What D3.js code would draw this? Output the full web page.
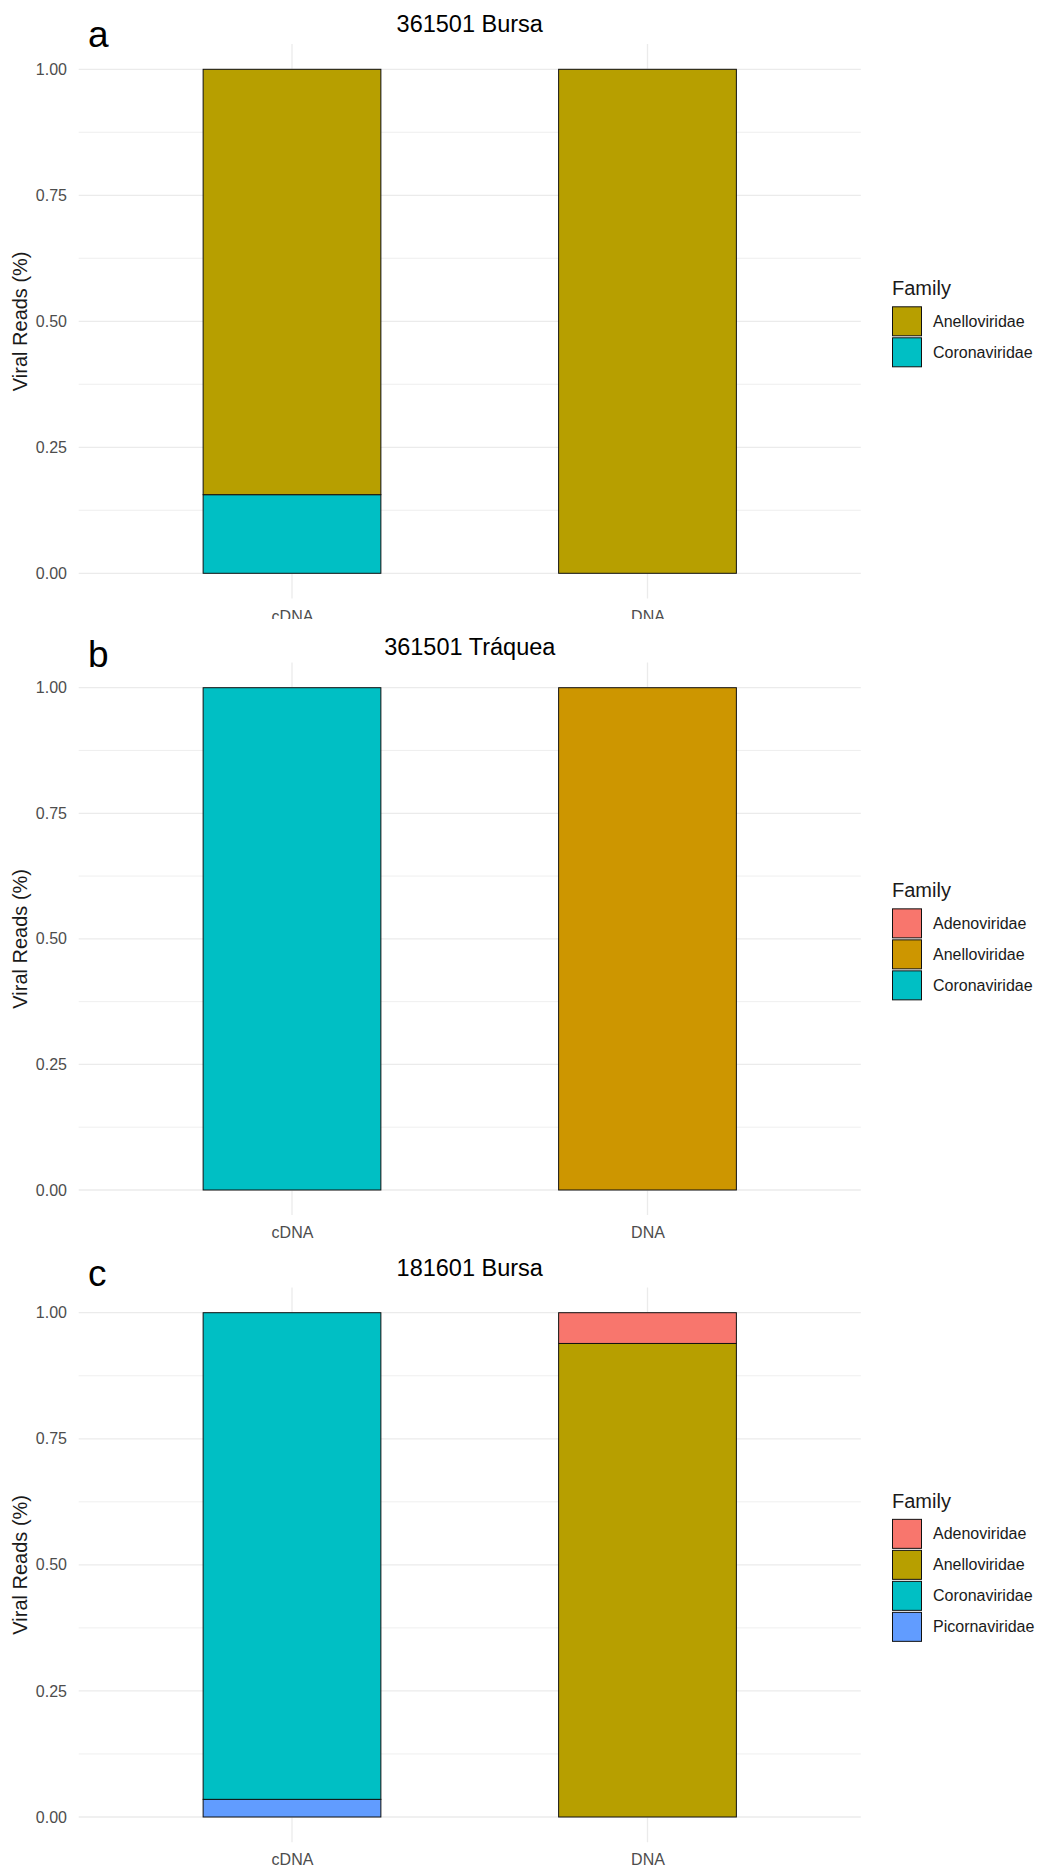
<!DOCTYPE html>
<html>
<head>
<meta charset="utf-8">
<script src="https://cdn.jsdelivr.net/npm/d3@7"></script>
<style>
  html, body { margin: 0; padding: 0; background: #fff; }
  svg { display: block; }
  text { font-family: "Liberation Sans", Arial, sans-serif; }
</style>
</head>
<body>
<script>
// ---------------- data ----------------
const categories = ["cDNA", "DNA"];
const yTicks = [0, 0.25, 0.5, 0.75, 1];
const yMinor = [0.125, 0.375, 0.625, 0.875];
const panelTitles = ["361501 Bursa", "361501 Tráquea", "181601 Bursa"];
const panelLetters = ["a", "b", "c"];

// panel a
const familiesA = ["Anelloviridae", "Coronaviridae"];
const colorsA = ["#B79F00", "#00BFC4"];
const a_Anelloviridae = [0.844, 1.0];
const a_Coronaviridae = [0.156, 0.0];

// panel b
const familiesB = ["Adenoviridae", "Anelloviridae", "Coronaviridae"];
const colorsB = ["#F8766D", "#CD9600", "#00BFC4"];
const b_Adenoviridae = [0.0, 0.0];
const b_Anelloviridae = [0.0, 1.0];
const b_Coronaviridae = [1.0, 0.0];

// panel c
const familiesC = ["Adenoviridae", "Anelloviridae", "Coronaviridae", "Picornaviridae"];
const colorsC = ["#F8766D", "#B79F00", "#00BFC4", "#619CFF"];
const c_Adenoviridae = [0.0, 0.061];
const c_Anelloviridae = [0.0, 0.939];
const c_Coronaviridae = [0.965, 0.0];
const c_Picornaviridae = [0.035, 0.0];

const panels = [
  { title: panelTitles[0], letter: panelLetters[0], families: familiesA, colors: colorsA,
    values: [a_Anelloviridae, a_Coronaviridae] },
  { title: panelTitles[1], letter: panelLetters[1], families: familiesB, colors: colorsB,
    values: [b_Adenoviridae, b_Anelloviridae, b_Coronaviridae] },
  { title: panelTitles[2], letter: panelLetters[2], families: familiesC, colors: colorsC,
    values: [c_Adenoviridae, c_Anelloviridae, c_Coronaviridae, c_Picornaviridae] }
];

// ---------------- layout ----------------
const W = 1042, H = 1870;
const layout = [
  { y1: 69.3,   y0: 573.3, titleY: 31.5,   letterY: 47,   clipTop: 0,   clipBottom: 619 },
  { y1: 687.7,  y0: 1190,  titleY: 655,    letterY: 667,  clipTop: 622, clipBottom: 1250 },
  { y1: 1312.7, y0: 1817,  titleY: 1275.5, letterY: 1286, clipTop: 1250, clipBottom: 1870 }
];
const plotLeft = 78.7, plotRight = 860.8;

const svg = d3.select("body").append("svg")
  .attr("width", W).attr("height", H)
  .attr("viewBox", `0 0 ${W} ${H}`);

const defs = svg.append("defs");

panels.forEach((p, i) => {
  const L = layout[i];
  defs.append("clipPath").attr("id", "clip" + i)
    .append("rect").attr("x", 0).attr("y", L.clipTop)
    .attr("width", W).attr("height", L.clipBottom - L.clipTop);

  const g = svg.append("g").attr("clip-path", `url(#clip${i})`);

  const span = L.y0 - L.y1;
  const top = L.y1 - 0.05 * span, bottom = L.y0 + 0.05 * span;
  const y = d3.scaleLinear().domain([-0.05, 1.05]).range([bottom, top]);
  const x = d3.scalePoint().domain(categories).range([plotLeft, plotRight]).padding(0.6);
  const bw = x.step() * 0.5;

  // minor grid
  g.append("g").selectAll("line").data(yMinor).join("line")
    .attr("x1", plotLeft).attr("x2", plotRight)
    .attr("y1", d => y(d)).attr("y2", d => y(d))
    .attr("stroke", "#EBEBEB").attr("stroke-width", 0.8);
  // major grid
  g.append("g").selectAll("line").data(yTicks).join("line")
    .attr("x1", plotLeft).attr("x2", plotRight)
    .attr("y1", d => y(d)).attr("y2", d => y(d))
    .attr("stroke", "#EBEBEB").attr("stroke-width", 1.3);
  g.append("g").selectAll("line").data(categories).join("line")
    .attr("x1", d => x(d)).attr("x2", d => x(d))
    .attr("y1", top).attr("y2", bottom)
    .attr("stroke", "#EBEBEB").attr("stroke-width", 1.3);

  // stacked bars: first family on top (ggplot position_stack)
  const rects = [];
  categories.forEach((cat, ci) => {
    let base = 0;
    for (let fi = p.families.length - 1; fi >= 0; fi--) {
      const v = p.values[fi][ci];
      if (v > 0) {
        rects.push({ cat, y0: base, y1: base + v, color: p.colors[fi] });
        base += v;
      }
    }
  });
  g.append("g").selectAll("rect").data(rects).join("rect")
    .attr("x", d => x(d.cat) - bw / 2)
    .attr("width", bw)
    .attr("y", d => y(d.y1))
    .attr("height", d => y(d.y0) - y(d.y1))
    .attr("fill", d => d.color)
    .attr("stroke", "#111").attr("stroke-width", 1);

  // y axis labels
  const yAxis = d3.axisLeft(y).tickValues(yTicks).tickFormat(d3.format(".2f")).tickSize(0).tickPadding(0);
  const ya = g.append("g").attr("transform", `translate(${67},0)`).call(yAxis);
  ya.select(".domain").remove();
  ya.selectAll("text").attr("font-size", 16).attr("fill", "#4D4D4D")
    .attr("font-family", "Liberation Sans, Arial, sans-serif");

  // x axis labels
  const xAxis = d3.axisBottom(x).tickSize(0).tickPadding(0);
  const xa = g.append("g").attr("transform", `translate(0,${L.y0 + 37})`).call(xAxis);
  xa.select(".domain").remove();
  xa.selectAll("text").attr("font-size", 16).attr("fill", "#4D4D4D")
    .attr("font-family", "Liberation Sans, Arial, sans-serif");

  // axis title
  const midY = (top + bottom) / 2;
  g.append("text")
    .attr("transform", `translate(27,${midY}) rotate(-90)`)
    .attr("text-anchor", "middle")
    .attr("font-size", 20).attr("fill", "#1a1a1a")
    .text("Viral Reads (%)");

  // title
  g.append("text")
    .attr("x", (plotLeft + plotRight) / 2).attr("y", L.titleY)
    .attr("text-anchor", "middle")
    .attr("font-size", 23.5).attr("fill", "#000")
    .text(p.title);

  // panel letter
  g.append("text")
    .attr("x", 88).attr("y", L.letterY)
    .attr("font-size", 37).attr("fill", "#000")
    .text(p.letter);

  // legend
  const n = p.families.length;
  const keyStart = midY + 16 - 15.5 * n;
  const lg = g.append("g");
  lg.append("text").attr("x", 892).attr("y", keyStart - 11)
    .attr("font-size", 20).attr("fill", "#1a1a1a").text("Family");
  const items = lg.selectAll("g.item").data(p.families).join("g").attr("class", "item")
    .attr("transform", (d, k) => `translate(892,${keyStart + k * 31})`);
  items.append("rect").attr("x", 0.5).attr("y", 0.5).attr("width", 29).attr("height", 29)
    .attr("fill", (d, k) => p.colors[k]).attr("stroke", "#111").attr("stroke-width", 1);
  items.append("text").attr("x", 41).attr("y", 15).attr("dy", "0.35em")
    .attr("font-size", 16).attr("fill", "#1a1a1a").text(d => d);
});
</script>
</body>
</html>
